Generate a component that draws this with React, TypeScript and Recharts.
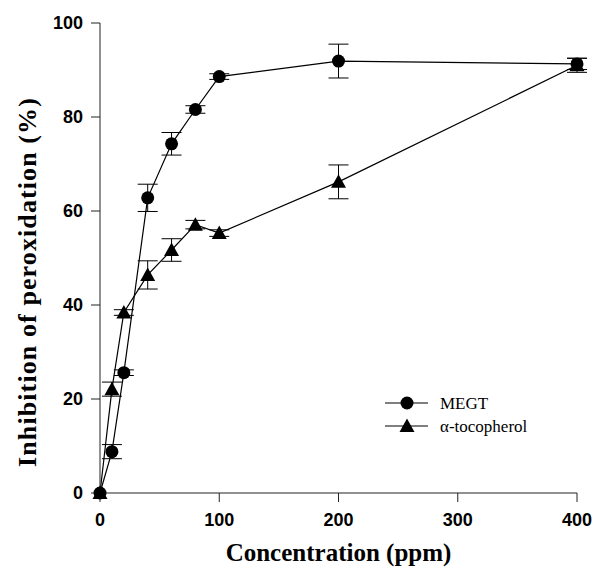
import React from "react";
import {
  ComposedChart,
  Line,
  XAxis,
  YAxis,
  ErrorBar,
  Label,
} from "recharts";

const concentrations = [0, 10, 20, 40, 60, 80, 100, 200, 400];
const megt = [0, 8.8, 25.6, 62.8, 74.3, 81.6, 88.6, 91.9, 91.3];
const megtErr = [0, 1.5, 0.6, 2.9, 2.4, 0.8, 0.6, 3.6, 1.2];
const tocopherol = [0, 22.1, 38.4, 46.4, 51.7, 57.1, 55.3, 66.2, 91.0];
const tocopherolErr = [0, 1.5, 0.6, 3.0, 2.4, 0.9, 0.7, 3.6, 1.5];
const xTicks = [0, 100, 200, 300, 400];
const yTicks = [0, 20, 40, 60, 80, 100];
const seriesNames = ["MEGT", "\u03b1-tocopherol"];

const data = concentrations.map((c, i) => ({
  conc: c,
  megt: megt[i],
  megtErr: megtErr[i],
  toco: tocopherol[i],
  tocoErr: tocopherolErr[i],
}));

const tickStyle = {
  fill: "#000",
  fontSize: 18,
  fontWeight: 700,
  fontFamily: "'Liberation Sans', Arial, sans-serif",
};

const titleFont = "'Liberation Serif', 'Times New Roman', serif";

function TriangleDot(props: any) {
  const { cx, cy, index } = props;
  if (cx == null || cy == null) return null;
  const s = 7.5;
  return (
    <polygon
      key={`tri-${index}`}
      points={`${cx},${cy - s} ${cx - s},${cy + s * 0.8} ${cx + s},${cy + s * 0.8}`}
      fill="#000"
    />
  );
}

// y title sits a bit lower than the plot centre in the original
function YTitle() {
  const x = 36;
  const y = 282;
  return (
    <text
      x={x}
      y={y}
      transform={`rotate(-90, ${x}, ${y})`}
      textAnchor="middle"
      fontFamily={titleFont}
      fontWeight={700}
      fontSize={26}
      letterSpacing={1.1}
      fill="#000"
    >
      Inhibition of peroxidation (%)
    </text>
  );
}

// legend drawn on top of the chart, so it does not eat plot height
function ChartLegend() {
  return (
    <svg
      width={200}
      height={50}
      style={{ position: "absolute", left: 383, top: 392 }}
    >
      {seriesNames.map((name, i) => {
        const y = 11 + i * 23;
        return (
          <g key={name}>
            <line x1={2} x2={45} y1={y} y2={y} stroke="#000" strokeWidth={1.2} />
            {i === 0 ? (
              <circle cx={24} cy={y} r={6.5} fill="#000" />
            ) : (
              <polygon
                points={`24,${y - 7.5} 16.5,${y + 6} 31.5,${y + 6}`}
                fill="#000"
              />
            )}
            <text x={57} y={y + 6} fontSize={17} fontFamily={titleFont} fill="#000">
              {name}
            </text>
          </g>
        );
      })}
    </svg>
  );
}

export default function App() {
  return (
    <div style={{ position: "absolute", left: 0, top: 0, background: "#fff" }}>
      <ComposedChart
        width={592}
        height={573}
        data={data}
        margin={{ top: 23, right: 15, bottom: 40, left: 40 }}
      >
        <XAxis
          dataKey="conc"
          type="number"
          domain={[0, 400]}
          ticks={xTicks}
          tick={tickStyle}
          tickSize={9}
          tickMargin={11}
          height={40}
          axisLine={{ stroke: "#222" }}
          tickLine={{ stroke: "#222" }}
        >
          <Label
            value="Concentration (ppm)"
            position="bottom"
            offset={10}
            style={{
              fontFamily: titleFont,
              fontWeight: 700,
              fontSize: 25,
              fill: "#000",
            }}
          />
        </XAxis>
        <YAxis
          type="number"
          domain={[0, 100]}
          ticks={yTicks}
          tick={tickStyle}
          tickSize={9}
          tickMargin={8}
          width={60}
          axisLine={{ stroke: "#222" }}
          tickLine={{ stroke: "#222" }}
        >
          <Label content={<YTitle />} />
        </YAxis>
        <Line
          dataKey="toco"
          name={seriesNames[1]}
          stroke="#000"
          strokeWidth={1.2}
          dot={<TriangleDot />}
          isAnimationActive={false}
        >
          <ErrorBar dataKey="tocoErr" width={10} stroke="#000" strokeWidth={1} />
        </Line>
        <Line
          dataKey="megt"
          name={seriesNames[0]}
          stroke="#000"
          strokeWidth={1.2}
          dot={{ r: 6.5, fill: "#000", stroke: "#000", strokeWidth: 0 }}
          isAnimationActive={false}
        >
          <ErrorBar dataKey="megtErr" width={10} stroke="#000" strokeWidth={1} />
        </Line>
      </ComposedChart>
      <ChartLegend />
    </div>
  );
}
